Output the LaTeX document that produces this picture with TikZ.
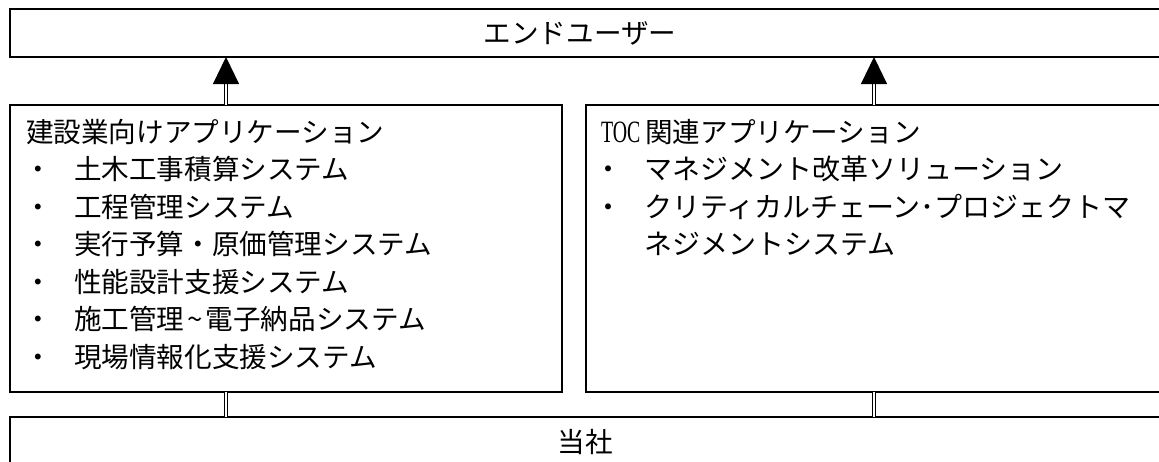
\documentclass[tikz,border=0pt]{standalone}
\usepackage{fontspec}
\newfontfamily\jp{Noto Sans CJK JP}
\newfontfamily\tocf[FakeStretch=0.64]{Liberation Serif}
\usetikzlibrary{arrows.meta,calc}
\begin{document}
\begin{tikzpicture}[x=1pt,y=-1pt,
  box/.style={draw,line width=1.3pt,inner sep=0pt,outer sep=0pt,anchor=north west},
  txt/.style={inner sep=0pt,outer sep=0pt,font=\jp\fontsize{27.6pt}{33pt}\selectfont},
  rtxt/.style={txt,font=\jp\fontsize{28pt}{33pt}\selectfont},
  dbl/.style={line width=1.1pt,double,double distance=2.4pt},
  tip/.style={-{Triangle[width=26pt,length=27pt]}}
]
\clip (0,0) rectangle (1159,461);
\useasboundingbox (0,0) rectangle (1159,461);
% boxes
\node[box,minimum width=1170pt,minimum height=48pt] (top) at (10,9) {};
\node[box,minimum width=552pt,minimum height=287pt] (lb) at (10,105) {};
\node[box,minimum width=600pt,minimum height=287pt] (rb) at (586,105) {};
\node[box,minimum width=1170pt,minimum height=60pt] (bot) at (10,417) {};
% labels
\node[txt,anchor=base] (tu) at (580,43.5) {エンドユーザー};
\node[txt,anchor=base] (tb) at (585,452.5) {当社};
% left box
\node[txt,anchor=base west] (l0) at (26,142) {建設業向けアプリケーション};
\node[txt,anchor=base] (lb1) at (38.7,179.5) {・};
\node[txt,anchor=base west] (l1) at (74,179.5) {土木工事積算システム};
\node[txt,anchor=base] (lb2) at (38.7,217) {・};
\node[txt,anchor=base west] (l2) at (74,217) {工程管理システム};
\node[txt,anchor=base] (lb3) at (38.7,254.5) {・};
\node[txt,anchor=base west] (l3) at (74,254.5) {実行予算・原価管理システム};
\node[txt,anchor=base] (lb4) at (38.7,292) {・};
\node[txt,anchor=base west] (l4) at (74,292) {性能設計支援システム};
\node[txt,anchor=base] (lb5) at (38.7,329.5) {・};
\node[txt,anchor=base west] (l5) at (74,329.5) {施工管理\kern3pt\textasciitilde\kern3pt 電子納品システム};
\node[txt,anchor=base] (lb6) at (38.7,367) {・};
\node[txt,anchor=base west] (l6) at (74,367) {現場情報化支援システム};
% right box
\node[txt,anchor=base west] (r0) at (601,142) {{\tocf\fontsize{31pt}{33pt}\selectfont TOC}\kern5pt 関連アプリケーション};
\node[rtxt,anchor=base] (rb1) at (608,179.5) {・};
\node[rtxt,anchor=base west] (r1) at (644,179.5) {マネジメント改革ソリューション};
\node[rtxt,anchor=base] (rb2) at (608,217) {・};
\node[rtxt,anchor=base west] (r2) at (644,217) {クリティカルチェーン･プロジェクトマ};
\node[rtxt,anchor=base west] (r3) at (644,254.5) {ネジメントシステム};
% connectors
\coordinate (a1) at (226,0);
\coordinate (a2) at (874,0);
\draw[dbl,tip] (lb.north -| a1) -- (top.south -| a1);
\draw[dbl,tip] (rb.north -| a2) -- (top.south -| a2);
\draw[dbl] (bot.north -| a1) -- (lb.south -| a1);
\draw[dbl] (bot.north -| a2) -- (rb.south -| a2);
\end{tikzpicture}
\end{document}
